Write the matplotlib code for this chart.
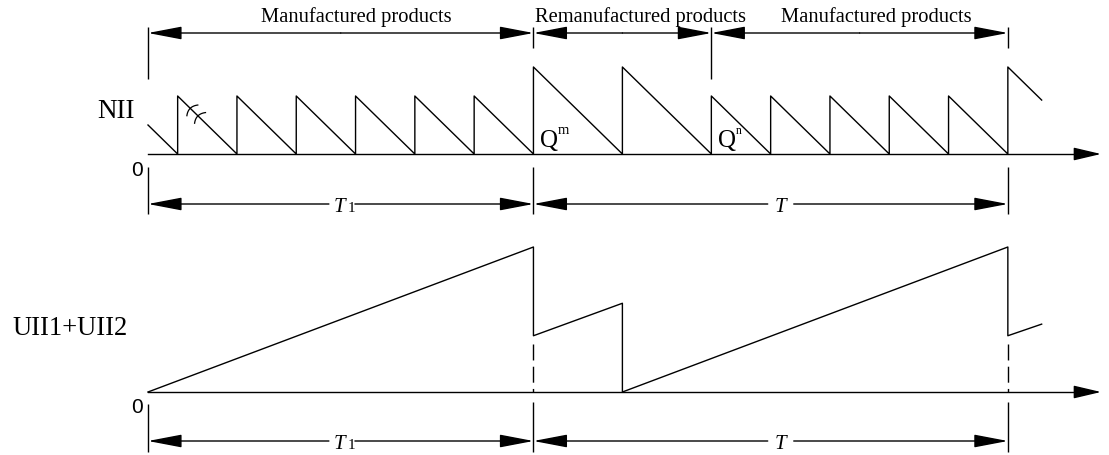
import matplotlib
matplotlib.use("Agg")
import matplotlib.pyplot as plt
from matplotlib.patches import FancyArrowPatch
import numpy as np

# ---------------- data ----------------
# NII inventory (top panel): start level, order times and lot sizes
nii_start_level = 0.5
demand_rate = 1.0
nii_order_times = [0.5, 1.5, 2.5, 3.5, 4.5, 5.5, 6.5, 8.0, 9.5, 10.5, 11.5, 12.5, 13.5, 14.5]
nii_lot_sizes = [1.0, 1.0, 1.0, 1.0, 1.0, 1.0, 1.5, 1.5, 1.0, 1.0, 1.0, 1.0, 1.0, 1.5]
nii_end_time = 15.07

# UII1+UII2 inventory (bottom panel)
uii_times = [0.0, 6.5, 6.5, 8.0, 8.0, 14.5, 14.5, 15.07]
uii_values = [0.0, 2.5, 0.97, 1.53, 0.0, 2.5, 0.97, 1.17]

# phases and cycles
phase_bounds = [0.0, 6.5, 9.5, 14.5]
phase_labels = ["Manufactured products", "Remanufactured products", "Manufactured products"]
phase_label_pos = [3.51, 8.30, 12.28]
cycle_bounds = [0.0, 6.5, 14.5]
cycle_labels = [("T", "1"), ("T", "")]
cycle_label_pos = [3.27, 10.67]
q_labels = [("Q", "m", 6.5), ("Q", "n", 9.5)]

# ---------------- layout ----------------
W, H = 1109, 456
X0_PX, PX_PER_T = 148.0, 59.3
UNIT_PX = 58.0
SERIF = ["Liberation Serif", "DejaVu Serif"]
SANS = ["Liberation Sans", "DejaVu Sans"]
LW = 1.0

fig = plt.figure(figsize=(W / 100, H / 100), dpi=100)


def make_axes(px_top, px_bot, base_px):
    ax = fig.add_axes([0, 1 - px_bot / H, 1, (px_bot - px_top) / H])
    ax.set_xlim(-X0_PX / PX_PER_T, (W - X0_PX) / PX_PER_T)
    ax.set_ylim((base_px - px_bot) / UNIT_PX, (base_px - px_top) / UNIT_PX)
    ax.axis("off")
    return ax


ax1 = make_axes(0, 228, 155)
ax2 = make_axes(228, 456, 393)
py1 = lambda px: (155 - px) / UNIT_PX
py2 = lambda px: (393 - px) / UNIT_PX
dt = lambda px: px / PX_PER_T
t_arrow_tip = dt(1101 - X0_PX)

DIM_HEAD = "-|>,head_length=21,head_width=4.0"
AX_HEAD = "-|>,head_length=17,head_width=4.0"


def arrow(ax, p0, p1, style):
    ax.add_patch(FancyArrowPatch(p0, p1, arrowstyle=style, mutation_scale=1,
                                 shrinkA=0, shrinkB=0, lw=LW, color="black",
                                 clip_on=False))


def vline(ax, x, y0, y1, **kw):
    ax.plot([x, x], [y0, y1], color="black", lw=LW, solid_capstyle="butt", **kw)


def dim_line_labeled(ax, x0, x1, y, xm, gap):
    arrow(ax, (xm - gap, y), (x0, y), DIM_HEAD)
    arrow(ax, (xm + gap, y), (x1, y), DIM_HEAD)


# ---------------- NII polyline ----------------
nt = [0.0]
nv = [nii_start_level]
level = nii_start_level
t_prev = 0.0
for t, q in zip(nii_order_times, nii_lot_sizes):
    level -= demand_rate * (t - t_prev)
    nt += [t, t]
    nv += [level, level + q]
    level += q
    t_prev = t
level -= demand_rate * (nii_end_time - t_prev)
nt.append(nii_end_time)
nv.append(level)
ax1.plot(nt, nv, color="black", lw=LW)

# break mark on first tooth (two small arcs across the line)
d = np.array([1.0, -demand_rate]) / np.hypot(1.0, demand_rate)
n = np.array([1.0, 1.0]) / np.sqrt(2)
s = np.linspace(-1, 1, 30)
for tc in [0.73, 0.86]:
    c = np.array([tc, nii_lot_sizes[0] - demand_rate * (tc - nii_order_times[0])])
    pts = c[:, None] + np.outer(n, s * 0.13) + np.outer(d, -0.05 * (1 - s ** 2) + 0.025)
    ax1.plot(pts[0], pts[1], color="black", lw=0.9)

# top axis
ax1.plot([0, t_arrow_tip - dt(20)], [0, 0], color="black", lw=LW)
arrow(ax1, (t_arrow_tip - dt(24), 0), (t_arrow_tip, 0), AX_HEAD)

# phase dimension line
y_phase = py1(34)
for i in range(len(phase_labels)):
    a, b = phase_bounds[i], phase_bounds[i + 1]
    arrow(ax1, ((a + b) / 2, y_phase), (a, y_phase), DIM_HEAD)
    arrow(ax1, ((a + b) / 2, y_phase), (b, y_phase), DIM_HEAD)
    ax1.text(phase_label_pos[i], py1(22), phase_labels[i], ha="center", va="baseline",
             fontsize=14.8, family=SERIF)
ext_long = [True, False, True, False]
for b, lng in zip(phase_bounds, ext_long):
    vline(ax1, b, py1(28), py1(80 if lng else 49))

# Q labels
for q, sup, t in q_labels:
    ax1.text(t + dt(7), py1(147), q, ha="left", va="baseline", fontsize=18, family=SERIF)
    ax1.text(t + dt(24.5), py1(134), sup, ha="left", va="baseline",
             fontsize=10.5 if sup == "m" else 8.5, family=SERIF)

# cycle dimension line (top)
y_cyc1 = py1(205)
for i in range(len(cycle_labels)):
    a, b = cycle_bounds[i], cycle_bounds[i + 1]
    dim_line_labeled(ax1, a, b, y_cyc1, cycle_label_pos[i], dt(13))
for b in cycle_bounds:
    vline(ax1, b, py1(168), py1(215))

ax1.text(dt(116 - X0_PX), py1(118), "NII", ha="center", va="baseline", fontsize=19.5, family=SERIF)
ax1.text(dt(137 - X0_PX), py1(176), "0", ha="center", va="baseline", fontsize=15, family=SANS)

# ---------------- UII panel ----------------
ax2.plot(uii_times, uii_values, color="black", lw=LW)
ax2.plot([0, t_arrow_tip - dt(20)], [0, 0], color="black", lw=LW)
arrow(ax2, (t_arrow_tip - dt(24), 0), (t_arrow_tip, 0), AX_HEAD)

drop_levels = [uii_values[2], uii_values[6]]
for b, lv in zip(cycle_bounds[1:], drop_levels):
    ax2.plot([b, b], [lv - dt(8) * PX_PER_T / UNIT_PX, py2(393)], color="black", lw=LW,
             dashes=(11.5, 4.5))
    vline(ax2, b, py2(403), py2(453))
vline(ax2, cycle_bounds[0], py2(405), py2(453))

y_cyc2 = py2(442)
for i in range(len(cycle_labels)):
    a, b = cycle_bounds[i], cycle_bounds[i + 1]
    dim_line_labeled(ax2, a, b, y_cyc2, cycle_label_pos[i], dt(13))

ax2.text(dt(70 - X0_PX), py2(335), "UII1+UII2", ha="center", va="baseline", fontsize=19.2, family=SERIF)
ax2.text(dt(137 - X0_PX), py2(413), "0", ha="center", va="baseline", fontsize=15, family=SANS)

# cycle labels (italic T with upright subscript)
for ax, ycen, pyf in [(ax1, 212, py1), (ax2, 449, py2)]:
    for (main, sub), xc in zip(cycle_labels, cycle_label_pos):
        if sub:
            ax.text(xc - dt(2), pyf(ycen), main, ha="center", va="baseline", fontsize=15,
                    family=SERIF, style="italic")
            ax.text(xc + dt(5.5), pyf(ycen), sub, ha="left", va="baseline", fontsize=11,
                    family=SERIF)
        else:
            ax.text(xc, pyf(ycen), main, ha="center", va="baseline", fontsize=15,
                    family=SERIF, style="italic")

fig.savefig("out.png", dpi=100, facecolor="white")
